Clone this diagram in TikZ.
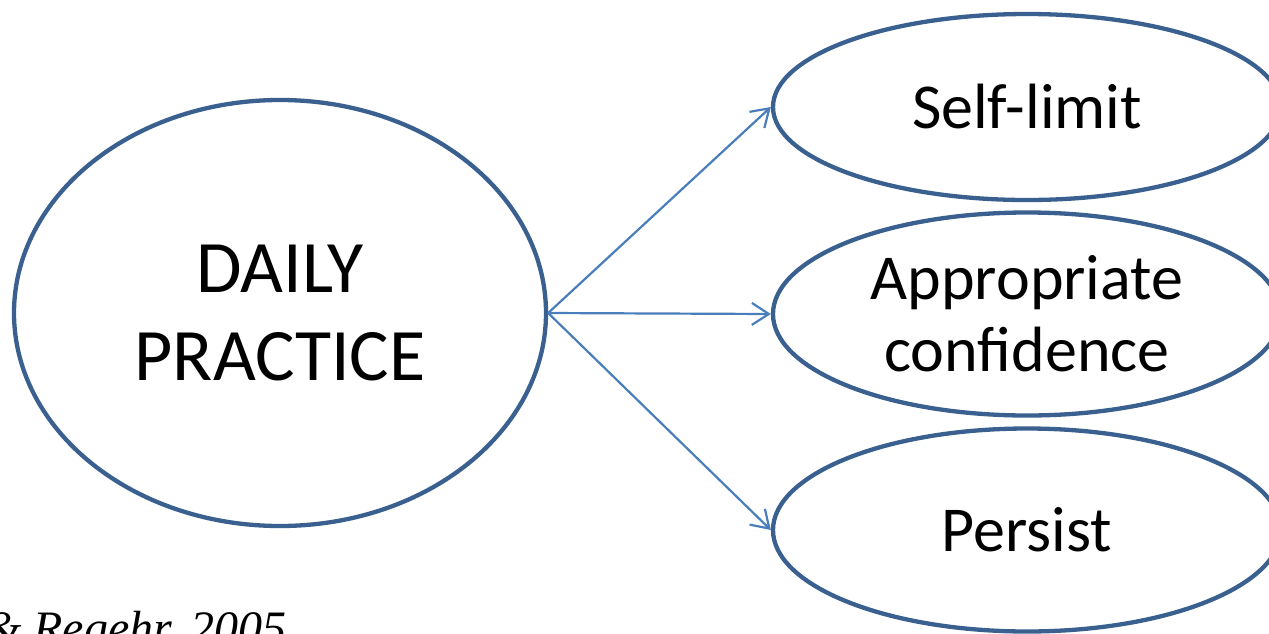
\documentclass[tikz,border=0pt]{standalone}
\usepackage{fontspec}
\setmainfont{Carlito}
\newfontfamily\citefont{Liberation Serif}
\usetikzlibrary{shapes.geometric,arrows.meta}
\definecolor{ellblue}{HTML}{3A6090}
\definecolor{arrblue}{HTML}{4A7EBB}
\tikzset{
  oval/.style={ellipse, draw=ellblue, line width=4.3pt, inner sep=0pt, align=center},
  conn/.style={draw=arrblue, line width=2.2pt, -{Straight Barb[length=17pt,width=22pt,line width=2.2pt]}}
}
\begin{document}
\begin{tikzpicture}[x=1pt,y=-1pt]
\useasboundingbox (0,0) rectangle (1269,633);
\node[oval, minimum width=532pt, minimum height=426pt, font=\fontsize{74}{88}\selectfont] (dp) at (280,313) {DAILY\\PRACTICE};
\node[oval, minimum width=508pt, minimum height=186pt, font=\fontsize{64}{72}\selectfont] (sl) at (1027,107) {Self-limit};
\node[oval, minimum width=508pt, minimum height=203pt, font=\fontsize{64}{72}\selectfont] (ac) at (1027,314) {Appropriate\\confidence};
\node[oval, minimum width=508pt, minimum height=203pt, font=\fontsize{64}{72}\selectfont] (pe) at (1027,530) {Persist};
\coordinate (src) at (dp.east);
\draw[conn] (src) -- (sl.west);
\draw[conn] (src) -- (ac.west);
\draw[conn] (src) -- (pe.west);
\node[anchor=base west, inner sep=0pt, font=\citefont\itshape\fontsize{48}{54}\selectfont] (cite) at (-16,644) {\& Regehr, 2005};
\end{tikzpicture}
\end{document}
